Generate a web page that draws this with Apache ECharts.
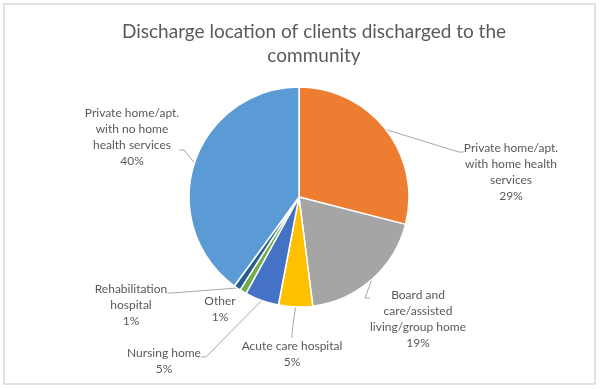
<!DOCTYPE html>
<html>
<head>
<meta charset="utf-8">
<script src="https://cdn.jsdelivr.net/npm/echarts@6/dist/echarts.min.js"></script>
<style>
html,body{margin:0;padding:0;background:#fff;}
#chart{width:600px;height:389px;}
</style>
</head>
<body>
<div id="chart"></div>
<script>
const titleText = 'Discharge location of clients discharged to the\ncommunity';
const categories = [
  'Private home/apt.\nwith home health\nservices',
  'Board and\ncare/assisted\nliving/group home',
  'Acute care hospital',
  'Nursing home',
  'Other',
  'Rehabilitation\nhospital',
  'Private home/apt.\nwith no home\nhealth services'
];
const values = [29, 19, 5, 5, 1, 1, 40];
const colors = ['#ED7D31', '#A5A5A5', '#FFC000', '#4472C4', '#70AD47', '#255E91', '#5B9BD5'];

// label layout (text-block centre and leader attach height)
const labelCenters = [[511,172],[418,319],[292,354],[164,361],[220,309],[131,305],[132,137]];
const attachY = [152, 298, null, 357, null, 293, 150];

const FONT = 'Lato';
const LINE_H = 16;
const chart = echarts.init(document.getElementById('chart'), null, {renderer: 'canvas'});
const layoutY = [];
const data = categories.map((c, i) => {
  const nLines = c.split('\n').length + 1;
  const cy = labelCenters[i][1];
  const top = cy - nLines * LINE_H / 2;
  let pad = [0, 0, 0, 0];
  let y = top;
  if (attachY[i] != null) {
    const d = 2 * (cy - attachY[i]);
    if (d > 0) { pad = [d, 0, 0, 0]; y = top - d; }
    else { pad = [0, 0, -d, 0]; }
  }
  layoutY.push(y);
  return {
    name: c,
    value: values[i],
    itemStyle: {color: colors[i]},
    label: {padding: pad},
    labelLine: {show: c !== 'Other'}
  };
});

chart.setOption({
  animation: false,
  graphic: [
    {type: 'rect', shape: {x: 4, y: 4, width: 591, height: 380},
     style: {fill: 'none', stroke: '#D9D9D9', lineWidth: 1.5}, silent: true},
    {type: 'text', x: 314, y: 44,
     style: {text: titleText, fill: '#595959', font: '19px ' + FONT, textAlign: 'center', textVerticalAlign: 'middle', lineHeight: 24}}
  ],
  series: [{
    type: 'pie',
    center: [299, 197],
    radius: [0, 110],
    startAngle: 90,
    clockwise: true,
    data: data,
    itemStyle: {borderColor: '#fff', borderWidth: 1.5},
    label: {
      show: true,
      formatter: '{b}\n{d}%',
      color: '#595959',
      fontFamily: FONT,
      fontSize: 12,
      lineHeight: LINE_H,
      align: 'center',
      backgroundColor: 'rgba(255,255,255,0)'
    },
    labelLine: {show: true, length: 15, length2: 5, minTurnAngle: 60, lineStyle: {color: '#A6A6A6', width: 1}},
    labelLayout: function (p) {
      const i = p.dataIndex;
      return {x: labelCenters[i][0], y: layoutY[i], align: 'center', verticalAlign: 'top'};
    }
  }]
});
</script>
</body>
</html>
